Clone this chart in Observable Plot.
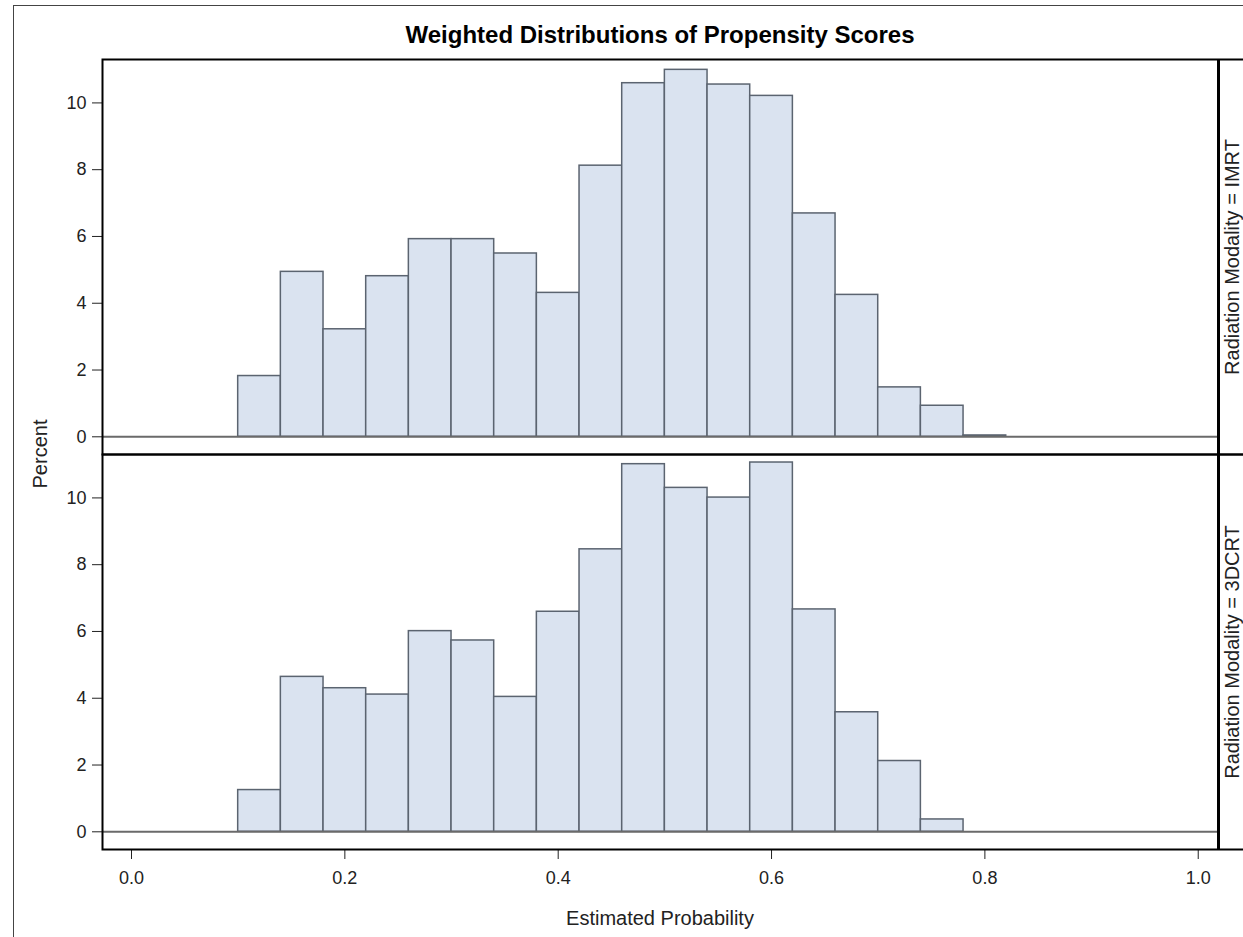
<!DOCTYPE html>
<html>
<head>
<meta charset="utf-8">
<script src="https://cdn.jsdelivr.net/npm/d3@7"></script>
<script src="https://cdn.jsdelivr.net/npm/@observablehq/plot@0.6"></script>
<style>
  html, body { margin: 0; padding: 0; background: #fff; }
  #wrap { position: relative; width: 1243px; height: 937px; overflow: hidden; background: #fff;
          font-family: "Liberation Sans", Arial, sans-serif; color: #111; }
  #wrap svg { position: absolute; left: 0; top: 0; }
  .lbl { position: absolute; white-space: nowrap; line-height: 1; }
  #title { left: 102px; width: 1116px; top: 23px; text-align: center; font-weight: bold; font-size: 24px; color: #000; }
  #xtitle { left: 102px; width: 1116px; top: 908px; text-align: center; font-size: 20px; color: #222; }
  #ytitle { left: 40px; top: 454px; font-size: 20px; color: #222; transform: translate(-50%, -50%) rotate(-90deg); }
  #border { position: absolute; left: 13px; top: 5px; width: 1300px; height: 1000px; border: 1px solid #444; pointer-events: none; }
</style>
</head>
<body>
<div id="wrap">
  <div id="chart"></div>
  <div id="title" class="lbl">Weighted Distributions of Propensity Scores</div>
  <div id="xtitle" class="lbl">Estimated Probability</div>
  <div id="ytitle" class="lbl">Percent</div>
  <div id="border"></div>
</div>
<script>
// Panels (row facets)
const panels = ["IMRT", "3DCRT"];
// Histogram bin edges (width 0.04)
const binEdges = [0.10, 0.14, 0.18, 0.22, 0.26, 0.30, 0.34, 0.38, 0.42, 0.46, 0.50, 0.54, 0.58, 0.62, 0.66, 0.70, 0.74, 0.78, 0.82];
// Weighted percent per bin
const imrtPercent = [1.82, 4.94, 3.22, 4.81, 5.92, 5.92, 5.49, 4.31, 8.12, 10.59, 10.99, 10.55, 10.21, 6.69, 4.25, 1.48, 0.93, 0.04];
const dcrtPercent = [1.25, 4.64, 4.30, 4.11, 6.01, 5.73, 4.04, 6.59, 8.46, 11.01, 10.30, 10.01, 11.06, 6.66, 3.58, 2.12, 0.37];
// Axis ticks
const xTicks = [0.0, 0.2, 0.4, 0.6, 0.8, 1.0];
const yTicks = [0, 2, 4, 6, 8, 10];
const xDomain = [-0.0272, 1.019];
const yDomain = [-0.53, 11.3];

const bars = [];
imrtPercent.forEach((v, i) => bars.push({panel: "IMRT", x1: binEdges[i], x2: binEdges[i + 1], pct: v}));
dcrtPercent.forEach((v, i) => bars.push({panel: "3DCRT", x1: binEdges[i], x2: binEdges[i + 1], pct: v}));

const chart = Plot.plot({
  width: 1243,
  height: 937,
  marginTop: 59,
  marginBottom: 88,
  marginLeft: 102,
  marginRight: 25,
  style: {fontFamily: "'Liberation Sans', Arial, sans-serif", fontSize: "18px", color: "#222", background: "transparent", overflow: "hidden"},
  x: {domain: xDomain, ticks: xTicks, tickFormat: d3.format(".1f"), tickSize: 10, tickPadding: 12, label: null},
  y: {domain: yDomain, ticks: yTicks, tickSize: 10, tickPadding: 6, label: null},
  fy: {domain: panels, padding: 0, axis: null},
  marks: [
    Plot.rect(bars, {x1: "x1", x2: "x2", y1: 0, y2: "pct", fy: "panel", fill: "#dae3f0", stroke: "#5b6470", strokeWidth: 1.5}),
    Plot.ruleY([0], {stroke: "#6a6a6a", strokeWidth: 2}),
    Plot.frame({stroke: "black", strokeWidth: 2, insetRight: -40}),
    Plot.ruleX([xDomain[1]], {stroke: "black", strokeWidth: 3}),
    Plot.text(panels, {fy: d => d, text: d => `Radiation Modality = ${d}`, frameAnchor: "right", dx: 14, rotate: -90,
      textAnchor: "middle", lineAnchor: "middle", fontSize: 20, fill: "#222"})
  ]
});
document.getElementById("chart").appendChild(chart);
</script>
</body>
</html>
